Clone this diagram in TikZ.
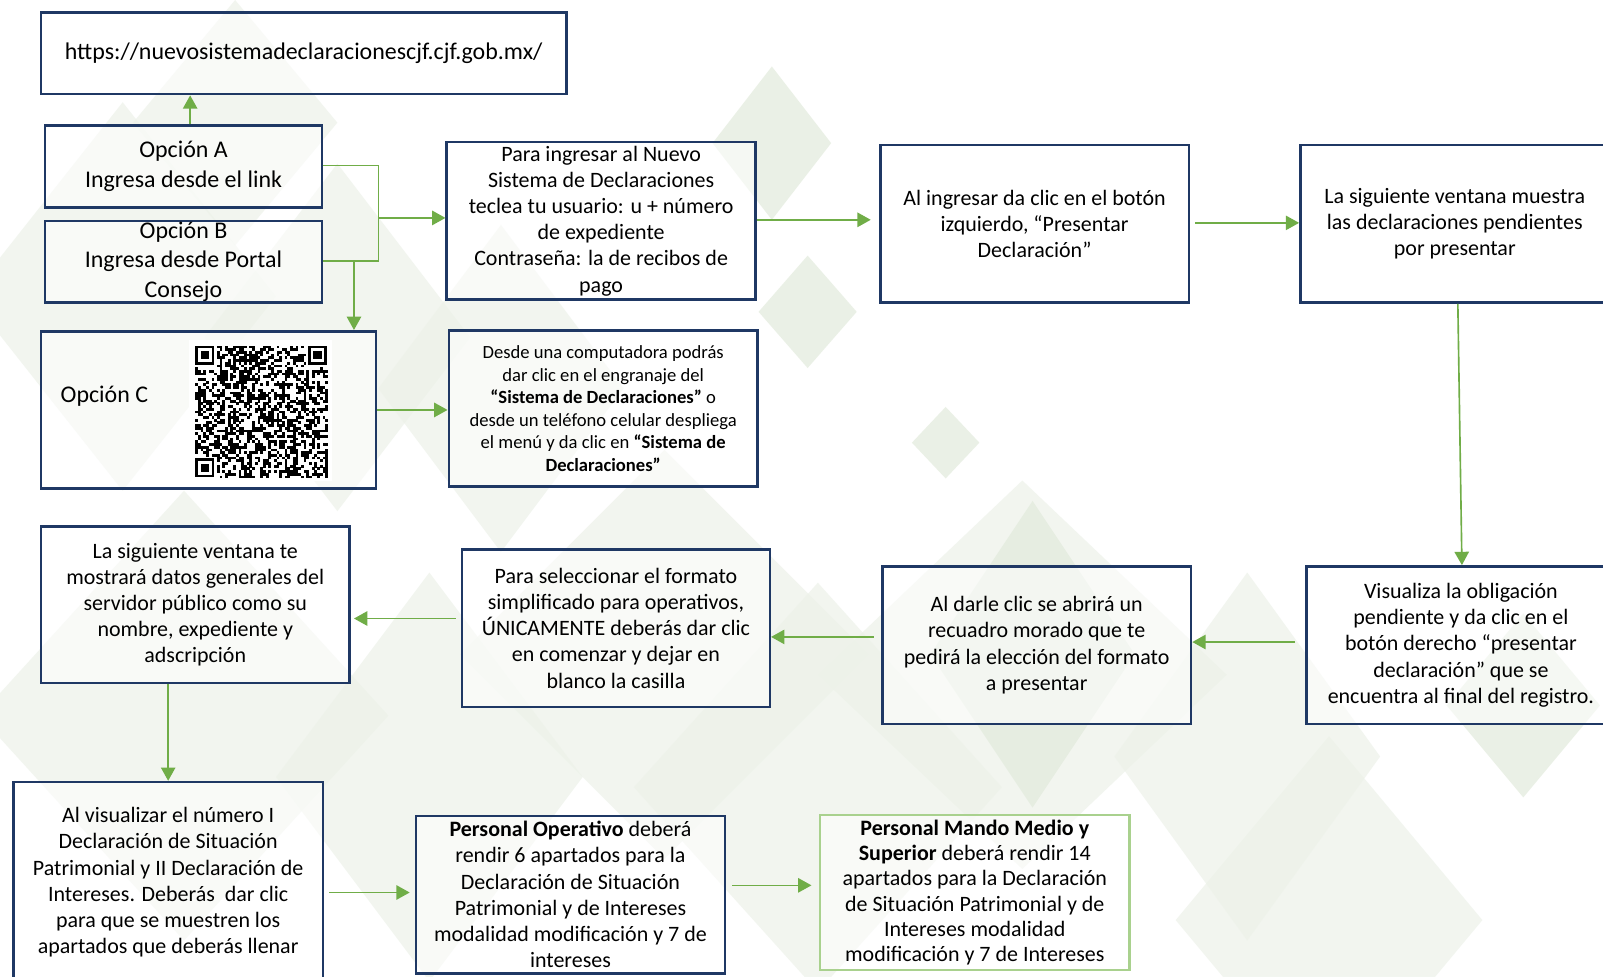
\documentclass[tikz,border=0pt]{standalone}
\usepackage{fontspec}
\setmainfont{Carlito}
\usetikzlibrary{arrows.meta,calc}
\definecolor{navy}{HTML}{1F3864}
\definecolor{grn}{HTML}{70AD47}
\definecolor{lgrn}{HTML}{A9D18E}
\definecolor{bgA}{HTML}{E2EBDC}
\definecolor{bgB}{HTML}{EDF2E9}
\begin{document}
\begin{tikzpicture}[x=0.5pt,y=-0.5pt,
  box/.style={draw=navy,line width=1.25pt,fill=white,fill opacity=0.55,text opacity=1,align=center,inner sep=0pt,font=\fontsize{10.75}{12.8}\selectfont},
  bigbox/.style={box,font=\fontsize{11.7}{14.5}\selectfont},
  arr/.style={draw=grn,line width=0.8pt,-{Triangle[length=6.5pt,width=7pt]}},
  ln/.style={draw=grn,line width=0.8pt}]
\useasboundingbox (0,0) rectangle (1568,955);
\fill[white] (0,0) rectangle (1568,955);
% background diamonds
\foreach \cx/\cy/\hw/\hh/\c in {
  120/290/150/190/bgB, 330/330/130/170/bgB, 230/120/100/120/bgB,
  490/380/120/160/bgB, 755/140/58/75/bgA, 790/305/48/55/bgA, 925/433/33/35/bgA,
  650/640/200/200/bgB, 1000/660/200/190/bgB, 800/770/180/200/bgB,
  1490/690/75/90/bgA, 1300/900/150/180/bgB, 180/700/200/220/bgB,
  420/760/150/200/bgB, 1220/740/130/180/bgB, 1010/640/100/150/bgA}
  \fill[\c,opacity=0.7] (\cx-\hw,\cy) -- (\cx,\cy-\hh) -- (\cx+\hw,\cy) -- (\cx,\cy+\hh) -- cycle;

% nodes
\node[bigbox,minimum width=257pt,minimum height=40pt] (url) at (297,52) {https://nuevosistemadeclaracionescjf.cjf.gob.mx/};
\node[bigbox,minimum width=135.5pt,minimum height=40pt] (optA) at (179.5,163) {Opción A\\Ingresa desde el link};
\node[bigbox,minimum width=135.5pt,minimum height=40pt] (optB) at (179.5,256) {Opción B\\Ingresa desde Portal\\Consejo};
\node[bigbox,minimum width=164pt,minimum height=77pt] (optC) at (204,401) {};
\node[font=\fontsize{11.7}{14.5}\selectfont,anchor=west,inner sep=0pt] (optCt) at (59,388) {Opción C};
% QR code
\fill[white] (185,333) rectangle (325,470);
\pgfmathsetseed{11}
\foreach \i in {0,...,48}{\foreach \j in {0,...,48}{
  \pgfmathtruncatemacro\sk{((\i<8)&&(\j<8))||((\i>40)&&(\j<8))||((\i<8)&&(\j>40))}
  \ifnum\sk=0
    \pgfmathrandominteger{\rr}{0}{1}
    \ifnum\rr=1 \fill[black] (191+\i*2.65,338+\j*2.65) rectangle ++(2.75,2.75); \fi
  \fi
}}
\foreach \qx/\qy in {191/338, 301.3/338, 191/448.3}{
  \fill[black] (\qx,\qy) rectangle ++(18.55,18.55);
  \fill[white] (\qx+2.65,\qy+2.65) rectangle ++(13.25,13.25);
  \fill[black] (\qx+5.3,\qy+5.3) rectangle ++(7.95,7.95);
}

\node[box,minimum width=151pt,minimum height=77pt] (para) at (588,216) {Para ingresar al Nuevo\\Sistema de Declaraciones\\teclea tu usuario: u + número\\de expediente\\Contraseña: la de recibos de\\pago};
\node[box,minimum width=151pt,minimum height=76.5pt,font=\fontsize{9.1}{11}\selectfont] (desde) at (590,399.5) {Desde una computadora podrás\\dar clic en el engranaje del\\\textbf{“Sistema de Declaraciones”} o\\desde un teléfono celular despliega\\el menú y da clic en \textbf{“Sistema de}\\\textbf{Declaraciones”}};
\node[box,minimum width=151pt,minimum height=77pt] (alIng) at (1012,219) {Al ingresar da clic en el botón\\izquierdo, “Presentar\\Declaración”};
\node[box,minimum width=151pt,minimum height=77pt] (sigM) at (1423,219) {La siguiente ventana muestra\\las declaraciones pendientes\\por presentar};
\node[box,minimum width=151pt,minimum height=77pt] (visu) at (1429,631) {Visualiza la obligación\\pendiente y da clic en el\\botón derecho “presentar\\declaración” que se\\encuentra al final del registro.};
\node[box,minimum width=151pt,minimum height=77pt] (darle) at (1014,631) {Al darle clic se abrirá un\\recuadro morado que te\\pedirá la elección del formato\\a presentar};
\node[box,minimum width=150.5pt,minimum height=77pt] (selec) at (602.5,614.5) {Para seleccionar el formato\\simplificado para operativos,\\ÚNICAMENTE deberás dar clic\\en comenzar y dejar en\\blanco la casilla};
\node[box,minimum width=151pt,minimum height=76.5pt] (sigte) at (191,591.5) {La siguiente ventana te\\mostrará datos generales del\\servidor público como su\\nombre, expediente y\\adscripción};
\node[box,minimum width=151.5pt,minimum height=98pt] (alVis) at (164.5,863) {Al visualizar el número I\\Declaración de Situación\\Patrimonial y II Declaración de\\Intereses. Deberás~ dar clic\\para que se muestren los\\apartados que deberás llenar};
\node[box,minimum width=151pt,minimum height=77pt] (oper) at (558,875) {\textbf{Personal Operativo} deberá\\rendir 6 apartados para la\\Declaración de Situación\\Patrimonial y de Intereses\\modalidad modificación y 7 de\\intereses};
\node[box,draw=lgrn,minimum width=151.5pt,minimum height=76pt,font=\fontsize{10.75}{12.4}\selectfont] (mando) at (953.5,873) {\textbf{Personal Mando Medio y}\\\textbf{Superior} deberá rendir 14\\apartados para la Declaración\\de Situación Patrimonial y de\\Intereses modalidad\\modificación y 7 de Intereses};

% connectors
\coordinate (aUp) at ($(optA.north)+(6.5,0)$);
\draw[arr] (aUp) -- (aUp |- url.south);
\coordinate (jA) at ($(optA.east)+(54,-1)$);
\coordinate (jB) at ($(optB.east)+(54,-1)$);
\draw[ln] ($(optA.east)+(0,-1)$) -- (jA) -- (jB) -- ($(optB.east)+(0,-1)$);
\coordinate (jM) at ($(jA)!0.55!(jB)$);
\draw[arr] (jM) -- (jM -| para.west);
\coordinate (jC) at ($(optB.east)+(30,-1)$);
\draw[arr] (jC) -- (jC |- optC.north);
\draw[arr] (optC.east) -- (optC.east -| desde.west);
\coordinate (pr) at ($(para.east)+(0,-1)$);
\draw[arr,shorten >=4pt] (pr) -- (pr -| alIng.west);
\coordinate (ar) at ($(alIng.east)+(0,-1)$);
\draw[arr,shorten <=2.5pt] (ar) -- (ar -| sigM.west);
\draw[arr] ($(sigM.south)+(3,0)$) -- ($(visu.north)+(1,0)$);
\coordinate (vl) at ($(visu.west)+(0,-3)$);
\draw[arr,shorten <=5pt] (vl) -- (vl -| darle.east);
\coordinate (dl) at ($(darle.west)+(0,-8)$);
\draw[arr,shorten <=3.5pt] (dl) -- (dl -| selec.east);
\coordinate (sl) at ($(selec.west)+(0,-9.5)$);
\draw[arr,shorten <=2.5pt,shorten >=1.5pt] (sl) -- (sl -| sigte.east);
\draw[arr] (alVis.north |- sigte.south) -- (alVis.north);
\coordinate (vr) at ($(alVis.east)+(0,10)$);
\draw[arr,shorten <=2.5pt,shorten >=2.5pt] (vr) -- (vr -| oper.west);
\coordinate (or) at ($(oper.east)+(0,-9)$);
\draw[arr,shorten <=3pt,shorten >=3.5pt] (or) -- (or -| mando.west);
\end{tikzpicture}
\end{document}
